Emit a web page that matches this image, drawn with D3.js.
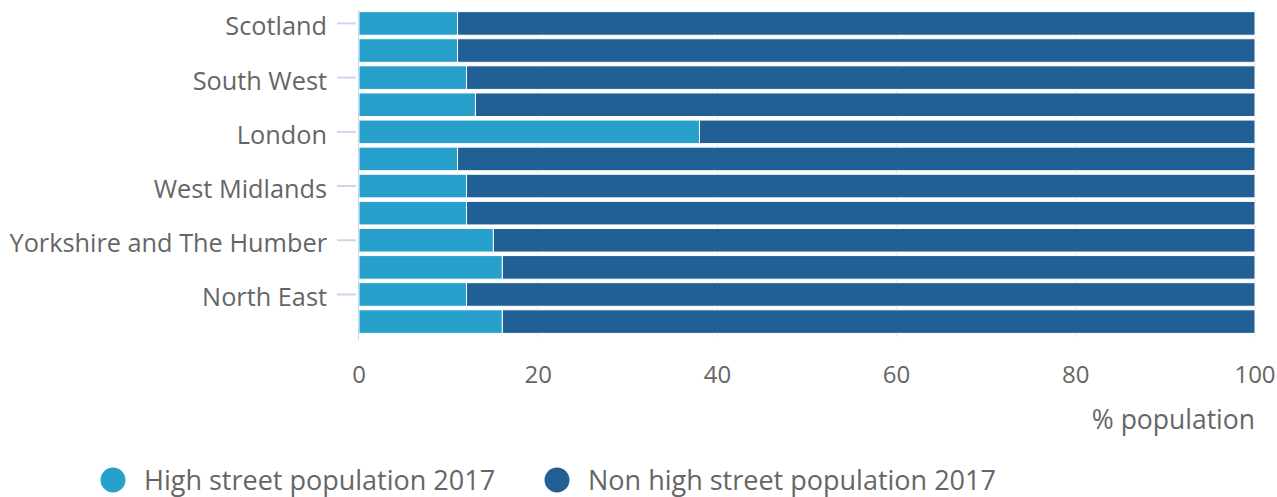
<!DOCTYPE html>
<html>
<head>
<meta charset="utf-8">
<script src="https://cdn.jsdelivr.net/npm/d3@7"></script>
<style>
  html, body { margin: 0; padding: 0; background: #fff; }
  svg { display: block; font-family: "Open Sans", sans-serif; }
</style>
</head>
<body>
<svg id="chart" width="1277" height="497"></svg>
<script>
const categories = ["Scotland", "Wales", "South West", "South East", "London", "East of England",
  "West Midlands", "East Midlands", "Yorkshire and The Humber", "North West", "North East", "Great Britain"];
const shownLabels = ["Scotland", "South West", "London", "West Midlands", "Yorkshire and The Humber", "North East"];
const highStreet = [11, 11, 12, 13, 38, 11, 12, 12, 15, 16, 12, 16];
const nonHighStreet = [89, 89, 88, 87, 62, 89, 88, 88, 85, 84, 88, 84];
const seriesNames = ["High street population 2017", "Non high street population 2017"];
const seriesColors = ["#27a0cc", "#206095"];
const xTicks = [0, 20, 40, 60, 80, 100];
const xTitle = "% population";

const svg = d3.select("#chart");
const mLeft = 359, mRight = 1255, mTop = 10, mBottom = 335;

const x = d3.scaleLinear().domain([0, 100]).range([mLeft, mRight]);
const y = d3.scaleBand().domain(categories).range([mTop, mBottom]).paddingInner(0.13).paddingOuter(0.06);

// gridlines
svg.append("g").selectAll("line").data(xTicks.filter(d => d > 0)).join("line")
  .attr("x1", d => x(d)).attr("x2", d => x(d))
  .attr("y1", mTop).attr("y2", mBottom + 2)
  .attr("stroke", "#e6e6e6").attr("stroke-width", 1);

// stacked bars
const rows = categories.map((c, i) => ({ cat: c, vals: [highStreet[i], nonHighStreet[i]] }));
const g = svg.append("g");
rows.forEach(r => {
  let acc = 0;
  r.vals.forEach((v, si) => {
    g.append("rect")
      .attr("x", x(acc)).attr("width", x(acc + v) - x(acc))
      .attr("y", y(r.cat)).attr("height", y.bandwidth())
      .attr("fill", seriesColors[si])
      .attr("stroke", "#ffffff").attr("stroke-width", 1);
    acc += v;
  });
});

// y axis line
svg.append("line").attr("x1", mLeft - 0.5).attr("x2", mLeft - 0.5)
  .attr("y1", mTop).attr("y2", mBottom + 5)
  .attr("stroke", "#ccd6eb").attr("stroke-width", 1);

// y ticks and labels
const yAxis = svg.append("g");
shownLabels.forEach(c => {
  const cy = y(c) + y.bandwidth() / 2;
  yAxis.append("line").attr("x1", mLeft - 22).attr("x2", mLeft - 3)
    .attr("y1", cy).attr("y2", cy).attr("stroke", "#ccd6eb").attr("stroke-width", 2);
  yAxis.append("text").attr("x", mLeft - 32).attr("y", cy + 12)
    .attr("text-anchor", "end").attr("fill", "#666666").attr("font-size", 25.3).text(c);
});

// x tick labels
svg.append("g").selectAll("text").data(xTicks).join("text")
  .attr("x", d => x(d)).attr("y", 383)
  .attr("text-anchor", "middle").attr("fill", "#666666").attr("font-size", 24)
  .text(d => d);

svg.append("text").attr("x", mRight).attr("y", 429).attr("text-anchor", "end")
  .attr("fill", "#666666").attr("font-size", 26.5).text(xTitle);

// legend
const legendX = [113, 557];
const lg = svg.append("g");
seriesNames.forEach((n, i) => {
  lg.append("circle").attr("cx", legendX[i]).attr("cy", 480).attr("r", 12.5).attr("fill", seriesColors[i]);
  lg.append("text").attr("x", legendX[i] + 31).attr("y", 490)
    .attr("fill", "#666666").attr("font-size", 27).text(n);
});
</script>
</body>
</html>
